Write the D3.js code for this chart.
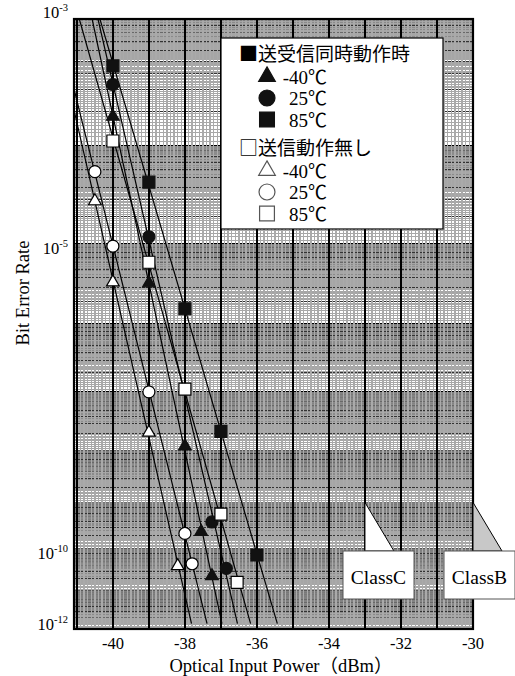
<!DOCTYPE html>
<html>
<head>
<meta charset="utf-8">
<script src="https://cdn.jsdelivr.net/npm/d3@7"></script>
<style>
  body { margin: 0; background: #fff; }
  svg { display: block; }
</style>
</head>
<body>
<div id="chart"></div>
<script>
// Measured points, optical input power (dBm) and bit error rate
// 送受信同時動作時 (filled markers)
const txrxM40Power = [-40, -39, -38, -37.55, -37.25];
const txrxM40Ber   = [1.8e-4, 3.4e-6, 1.2e-8, 2.4e-10, 2.3e-11];
const txrx25Power  = [-40, -39, -37.25, -36.85];
const txrx25Ber    = [3.3e-4, 1.2e-5, 3.9e-10, 3.5e-11];
const txrx85Power  = [-40, -39, -38, -37, -36];
const txrx85Ber    = [4.6e-4, 4.5e-5, 1.6e-6, 2.2e-8, 7.2e-11];
// 送信動作無し (open markers)
const rxM40Power = [-40.5, -40, -39, -38.2];
const rxM40Ber   = [2.9e-5, 3.5e-6, 2.1e-8, 4.0e-11];
const rx25Power  = [-40.5, -40, -39, -38, -37.8];
const rx25Ber    = [5.7e-5, 9.4e-6, 1.0e-7, 2.2e-10, 4.5e-11];
const rx85Power  = [-40, -39, -38, -37, -36.55];
const rx85Ber    = [1.1e-4, 6.1e-6, 1.1e-7, 5.7e-10, 1.6e-11];

const xTicks = [-40, -38, -36, -34, -32, -30];
const yTickExps = [3, 5, 10, 12];
const classLabels = ["ClassC", "ClassB"];
const classPower = [-33, -30];
const classBer = 1e-9;
const fitEndBer = 1.4e-12;

const legendGroups = ["送受信同時動作時", "送信動作無し"];
const legendTemps = ["-40℃", "25℃", "85℃"];

const w = 515, h = 676;
const pLeft = 74, pRight = 473, pTop = 19, pBottom = 629;
const serif = "'Liberation Serif', 'Times New Roman', 'Noto Sans CJK JP', serif";

const x = d3.scaleLinear().domain([-41.08, -30]).range([pLeft, pRight]);
// BER paper: linear in log(-log(BER))
const yM = d3.scaleLog().domain([3, 12]).range([pTop, pBottom]);
const y = ber => yM(-Math.log10(ber));

const svg = d3.select("#chart").append("svg")
    .attr("width", w).attr("height", h)
    .attr("font-family", serif);

svg.append("clipPath").attr("id", "plot-clip")
  .append("rect").attr("x", pLeft).attr("y", pTop)
    .attr("width", pRight - pLeft).attr("height", pBottom - pTop);

const grid = svg.append("g").attr("shape-rendering", "crispEdges");

// horizontal grid, mantissa lines inside each decade
const hLines = [];
for (let n = 3; n < 12; n++) {
  for (let k = 10; k < 100; k++) {
    const a = k / 10;
    hLines.push({ m: n + 1 - Math.log10(a), kind: k % 10 === 0 ? (k === 10 ? 2 : 1) : 0 });
  }
}
grid.selectAll("line.h").data(hLines).enter().append("line")
    .attr("x1", pLeft).attr("x2", pRight)
    .attr("y1", d => yM(d.m)).attr("y2", d => yM(d.m))
    .attr("stroke", d => d.kind === 2 ? "#000" : d.kind === 1 ? "#333" : "#808080")
    .attr("stroke-width", d => d.kind === 2 ? 1.2 : d.kind === 1 ? 1 : 0.7);

// vertical grid, every 0.1 dBm
const vLines = d3.range(-410, -299).map(v => v / 10);
grid.selectAll("line.v").data(vLines).enter().append("line")
    .attr("x1", d => x(d)).attr("x2", d => x(d))
    .attr("y1", pTop).attr("y2", pBottom)
    .attr("stroke", d => Number.isInteger(d) ? "#000" : "#aaa")
    .attr("stroke-width", d => Number.isInteger(d) ? 1.5 : 1.4);

svg.append("rect")
    .attr("x", pLeft).attr("y", pTop)
    .attr("width", pRight - pLeft).attr("height", pBottom - pTop)
    .attr("fill", "none").attr("stroke", "#000").attr("stroke-width", 2.2);

// series
const series = [
  { power: txrxM40Power, ber: txrxM40Ber, shape: d3.symbolTriangle, size: 70, filled: true },
  { power: txrx25Power, ber: txrx25Ber, shape: d3.symbolCircle, size: 113, filled: true },
  { power: txrx85Power, ber: txrx85Ber, shape: d3.symbolSquare, size: 144, filled: true },
  { power: rxM40Power, ber: rxM40Ber, shape: d3.symbolTriangle, size: 70, filled: false },
  { power: rx25Power, ber: rx25Ber, shape: d3.symbolCircle, size: 113, filled: false },
  { power: rx85Power, ber: rx85Ber, shape: d3.symbolSquare, size: 144, filled: false }
];

// least squares fit in (power, log(-log BER)) space
function fit(s) {
  const xs = s.power, ys = s.ber.map(b => Math.log10(-Math.log10(b)));
  const mx = d3.mean(xs), my = d3.mean(ys);
  const b = d3.sum(xs, (v, i) => (v - mx) * (ys[i] - my)) / d3.sum(xs, v => (v - mx) ** 2);
  const a = my - b * mx;
  const powerAt = ber => (Math.log10(-Math.log10(ber)) - a) / b;
  return [[powerAt(1e-3), 1e-3], [powerAt(fitEndBer), fitEndBer]];
}

const lines = svg.append("g").attr("clip-path", "url(#plot-clip)");
lines.selectAll("line").data(series.map(fit)).enter().append("line")
    .attr("x1", d => x(d[0][0])).attr("y1", d => y(d[0][1]))
    .attr("x2", d => x(d[1][0])).attr("y2", d => y(d[1][1]))
    .attr("stroke", "#000").attr("stroke-width", 1.2);

series.forEach(s => {
  svg.append("g").selectAll("path")
    .data(s.power.map((p, i) => [p, s.ber[i]]))
    .enter().append("path")
    .attr("transform", d => `translate(${x(d[0])},${y(d[1])})`)
    .attr("d", d3.symbol().type(s.shape).size(s.size))
    .attr("fill", s.filled ? "#111" : "#fff")
    .attr("stroke", s.filled ? "#111" : "#000")
    .attr("stroke-width", 1.2);
});

// legend
const lg = svg.append("g");
lg.append("rect").attr("x", 221).attr("y", 38).attr("width", 222).attr("height", 191)
    .attr("fill", "#fff").attr("stroke", "#000").attr("stroke-width", 1.2);
const legendShapes = [d3.symbolTriangle, d3.symbolCircle, d3.symbolSquare];
const legendSizes = [120, 200, 220];
legendGroups.forEach((g, gi) => {
  const y0 = gi === 0 ? 54 : 148;
  lg.append("text").attr("x", 239).attr("y", y0 + 7)
    .attr("font-size", 19)
    .attr("font-family", "'Noto Sans CJK JP', sans-serif")
    .text((gi === 0 ? "■" : "□") + g);
  legendTemps.forEach((t, i) => {
    const yy = y0 + 22.5 + i * 21.5;
    lg.append("path")
      .attr("transform", `translate(267,${yy})`)
      .attr("d", d3.symbol().type(legendShapes[i]).size(legendSizes[i]))
      .attr("fill", gi === 0 ? "#111" : "#fff")
      .attr("stroke", gi === 0 ? "#111" : "#555")
      .attr("stroke-width", 1.2);
    lg.append("text").attr("x", 327).attr("y", yy + 7)
      .attr("text-anchor", "end").attr("font-size", 19)
      .text(t);
  });
});

// ClassC / ClassB callouts
classLabels.forEach((c, i) => {
  const px = x(classPower[i]), py = y(classBer);
  const boxTop = 551, boxBottom = 599;
  const bx = i === 0 ? 343 : 444;
  svg.append("path")
    .attr("d", `M${px},${py}L${px},${boxTop}L${px + 29},${boxTop}Z`)
    .attr("fill", i === 0 ? "#fff" : "#c8c8c8")
    .attr("stroke", "#000").attr("stroke-width", 1);
  svg.append("rect").attr("x", bx).attr("y", boxTop)
    .attr("width", 71).attr("height", boxBottom - boxTop)
    .attr("fill", "#fff").attr("stroke", "#555").attr("stroke-width", 1);
  svg.append("text").attr("x", bx + 35.5).attr("y", 584)
    .attr("text-anchor", "middle").attr("font-size", 19.5)
    .text(c);
});

// axes labels
svg.selectAll("text.xt").data(xTicks).enter().append("text")
    .attr("x", d => x(d)).attr("y", 649)
    .attr("text-anchor", "middle").attr("font-size", 16.5)
    .text(d => d);

const yt = svg.selectAll("text.yt").data(yTickExps).enter().append("text")
    .attr("x", 68)
    .attr("y", d => d === 3 ? yM(d) - 1 : d === 12 ? yM(d) + 1 : yM(d) + 10)
    .attr("text-anchor", "end").attr("font-size", 16.5);
yt.append("tspan").text("10");
yt.append("tspan").attr("dy", -7).attr("font-size", 10.5).text(d => "-" + d);

svg.append("text")
    .attr("transform", "translate(29,293) rotate(-90)")
    .attr("text-anchor", "middle").attr("font-size", 18.5)
    .text("Bit Error Rate");

svg.append("text")
    .attr("x", 281).attr("y", 672)
    .attr("text-anchor", "middle").attr("font-size", 18.5)
    .text("Optical Input Power（dBm）");
</script>
</body>
</html>
